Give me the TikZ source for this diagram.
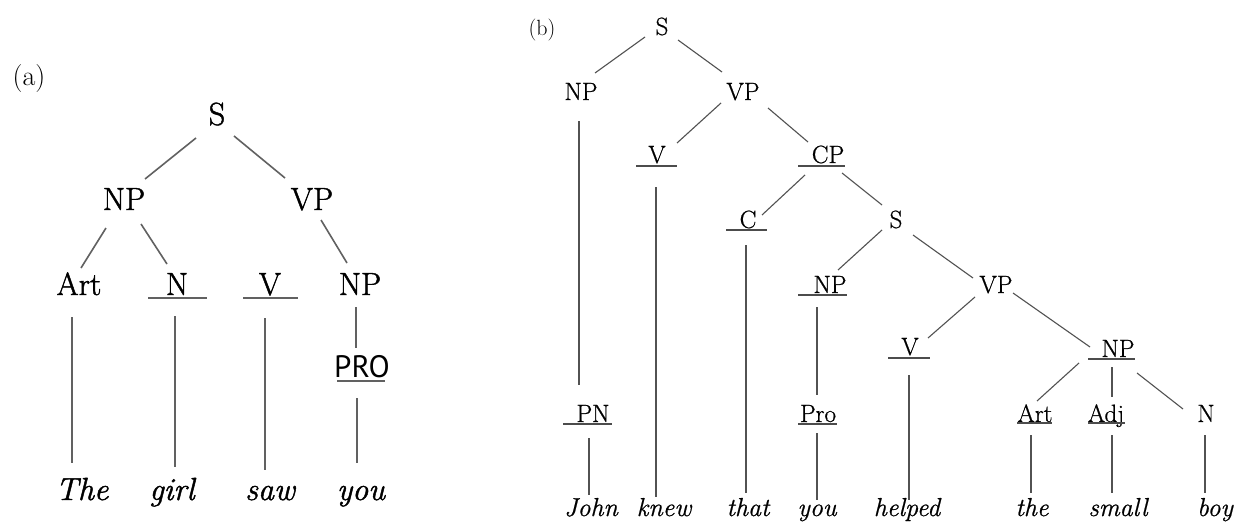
\documentclass[tikz,border=0pt]{standalone}
\usepackage{fontspec}
\newfontfamily\ptsans{PT Sans}
\newfontfamily\lmA[FakeBold=1.4]{Latin Modern Roman}
\newfontfamily\lmB[FakeBold=0.7]{Latin Modern Roman}
\tikzset{
  nA/.style={anchor=base, inner sep=0pt, font=\lmA\fontsize{32}{38}\selectfont},
  wA/.style={anchor=base, inner sep=0pt, font=\lmA\fontsize{32}{38}\selectfont\itshape},
  nB/.style={anchor=base, inner sep=0pt, font=\lmB\fontsize{25}{30}\selectfont},
  wB/.style={anchor=base, inner sep=0pt, font=\lmB\fontsize{26}{31}\selectfont\itshape},
  lnA/.style={draw=black!62, line width=1.6pt},
  lnB/.style={draw=black!68, line width=1.1pt},
  ulA/.style={draw=black!62, line width=1.4pt},
  ulB/.style={draw=black!70, line width=1.1pt},
}
% connector from node #1 (offset #2,#3 from its base) to node #4 (offset #5,#6)
\newcommand\lnkA[6]{\draw[lnA] ([shift={(#2,#3)}]#1.base) -- ([shift={(#5,#6)}]#4.base);}
\newcommand\lnkB[6]{\draw[lnB] ([shift={(#2,#3)}]#1.base) -- ([shift={(#5,#6)}]#4.base);}
% underline of node #1 from x-offset #2 to #3 at drop #4
\newcommand\ulnA[4]{\draw[ulA] ([shift={(#2,#4)}]#1.base) -- ([shift={(#3,#4)}]#1.base);}
\newcommand\ulnB[4]{\draw[ulB] ([shift={(#2,#4)}]#1.base) -- ([shift={(#3,#4)}]#1.base);}
\begin{document}
\begin{tikzpicture}[x=1pt,y=-1pt]
\useasboundingbox[fill=white] (0,0) rectangle (1235,522);

% ---------------- (a) ----------------
\node[inner sep=0pt, font=\fontsize{28}{32}\selectfont] (alab) at (29,79) {(a)};
\node[nA] (aS)   at (217,125) {S};
\node[nA] (aNP)  at (124,210) {NP};
\node[nA] (aVP)  at (312,210) {VP};
\node[nA] (aArt) at (79,295)  {Art};
\node[nA] (aN)   at (177,295) {N};
\node[nA] (aV)   at (270,295) {V};
\node[nA] (aNPb) at (360,295) {NP};
\node[anchor=base, inner sep=0pt, font=\ptsans\fontsize{31}{36}\selectfont] (aPRO) at (362,377) {PRO};
\node[wA] (aThe)  at (82,500)  {The};
\node[wA] (agirl) at (172,500) {girl};
\node[wA] (asaw)  at (270,500) {saw};
\node[wA] (ayou)  at (361,500) {you};

\ulnA{aN}{-29}{30}{3}
\ulnA{aV}{-27}{28}{3}
\ulnA{aPRO}{-25}{23}{4}

\lnkA{aS}{-21}{13}{aNP}{21}{-31}
\lnkA{aS}{17}{11}{aVP}{-27}{-32}
\lnkA{aNP}{-18}{18}{aArt}{2}{-27}
\lnkA{aNP}{17}{14}{aN}{-10}{-31}
\lnkA{aVP}{9}{10}{aNPb}{-13}{-32}
\lnkA{aArt}{-7}{22}{aThe}{-10}{-37}
\lnkA{aN}{-2}{21}{agirl}{3}{-33}
\lnkA{aV}{-5}{23}{asaw}{-5}{-30}
\lnkA{aNPb}{-4}{12}{aPRO}{-6}{-29}
\lnkA{aPRO}{-5}{21}{ayou}{-4}{-37}

% ---------------- (b) ----------------
\node[inner sep=0pt, font=\fontsize{22}{26}\selectfont] (blab) at (542,30) {(b)};
\node[nB] (bS)   at (662,35)  {S};
\node[nB] (bNP)  at (581,100) {NP};
\node[nB] (bVP)  at (743,100) {VP};
\node[nB] (bV)   at (657,163) {V};
\node[nB] (bCP)  at (828,163) {CP};
\node[nB] (bC)   at (748,228) {C};
\node[nB] (bSb)  at (896,228) {S};
\node[nB] (bNPc) at (830,293) {NP};
\node[nB] (bVPb) at (996,293) {VP};
\node[nB] (bVb)  at (910,355) {V};
\node[nB] (bNPd) at (1118,357) {NP};
\node[nB] (bPN)  at (593,422) {PN};
\node[nB] (bPro) at (818,422) {Pro};
\node[nB] (bArt) at (1035,422) {Art};
\node[nB] (bAdj) at (1106,422) {Adj};
\node[nB] (bN)   at (1206,422) {N};
\node[wB] (bJohn)   at (591,516)  {John};
\node[wB] (bknew)   at (664,516)  {knew};
\node[wB] (bthat)   at (748,516)  {that};
\node[wB] (byou)    at (817,516)  {you};
\node[wB] (bhelped) at (907,516)  {helped};
\node[wB] (bthe)    at (1032,516) {the};
\node[wB] (bsmall)  at (1118,516) {small};
\node[wB] (bboy)    at (1215,516) {boy};

\ulnB{bV}{-21}{20}{3}
\ulnB{bCP}{-30}{17}{3}
\ulnB{bC}{-22}{19}{2}
\ulnB{bNPc}{-32}{17}{2}
\ulnB{bVb}{-22}{20}{3}
\ulnB{bNPd}{-30}{17}{2}
\ulnB{bPN}{-30}{19}{2}
\ulnB{bPro}{-20}{19}{2}
\ulnB{bArt}{-18}{17}{1}
\ulnB{bAdj}{-18}{19}{1}

\lnkB{bS}{-17}{2}{bNP}{14}{-27}
\lnkB{bS}{16}{5}{bVP}{-21}{-28}
\lnkB{bVP}{-22}{3}{bV}{20}{-20}
\lnkB{bVP}{25}{8}{bCP}{-20}{-21}
\lnkB{bCP}{-23}{12}{bC}{14}{-13}
\lnkB{bCP}{14}{10}{bSb}{-14}{-23}
\lnkB{bSb}{-14}{2}{bNPc}{8}{-23}
\lnkB{bSb}{17}{7}{bVPb}{-23}{-15}
\lnkB{bVPb}{-21}{4}{bVb}{18}{-17}
\lnkB{bVPb}{17}{0}{bNPd}{-28}{-10}
\lnkB{bNPd}{-39}{6}{bArt}{2}{-21}
\lnkB{bNPd}{-6}{10}{bAdj}{6}{-25}
\lnkB{bNPd}{19}{16}{bN}{-23}{-13}
\lnkB{bNP}{-2}{21}{bPN}{-14}{-37}
\lnkB{bPN}{-4}{16}{bJohn}{-2}{-21}
\lnkB{bV}{-1}{24}{bknew}{-8}{-19}
\lnkB{bC}{-2}{17}{bthat}{-2}{-23}
\lnkB{bNPc}{-13}{14}{bPro}{-1}{-27}
\lnkB{bPro}{-1}{11}{byou}{0}{-16}
\lnkB{bVb}{-1}{20}{bhelped}{2}{-16}
\lnkB{bArt}{-4}{13}{bthe}{-1}{-23}
\lnkB{bAdj}{6}{13}{bsmall}{-6}{-23}
\lnkB{bN}{-1}{13}{bboy}{-10}{-23}
\end{tikzpicture}
\end{document}
